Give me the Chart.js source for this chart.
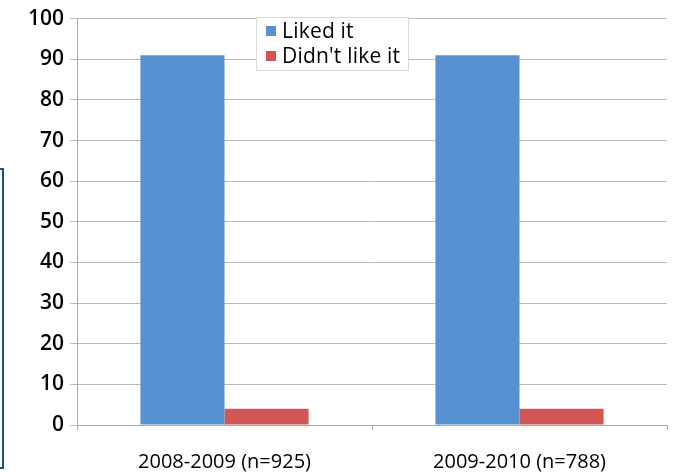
<!DOCTYPE html>
<html>
<head>
<meta charset="utf-8">
<script src="https://cdn.jsdelivr.net/npm/chart.js@4/dist/chart.umd.min.js"></script>
<style>
  body { margin: 0; background: #fff; }
  #wrap { position: relative; width: 680px; height: 472px; }
  #legend {
    position: absolute; left: 256px; top: 17px; width: 153px; height: 54px;
    background: #fff; border: 1px solid #d8d8d8; box-sizing: border-box;
    font-family: "Open Sans", sans-serif; font-size: 21px; color: #000;
    padding: 0 0 0 9px; line-height: 25px; white-space: nowrap; letter-spacing: 0.2px;
  }
  #legend span.sw { display: inline-block; width: 10px; height: 10px; margin-right: 6px; vertical-align: 2px; }
  #edge {
    position: absolute; left: 0; top: 168px; width: 2px; height: 297px;
    border-right: 2px solid #1f4f80; border-top: 2px solid #1f4f80; border-bottom: 2px solid #1f4f80;
  }
</style>
</head>
<body>
<div id="wrap">
  <canvas id="chart" width="680" height="472"></canvas>
  <div id="legend"></div>
  <div id="edge"></div>
</div>
<script>
var categories = ['2008-2009 (n=925)', '2009-2010 (n=788)'];
var seriesNames = ['Liked it', "Didn't like it"];
var likedValues = [91, 91];
var dislikedValues = [4, 4];
var colors = ['#5791D2', '#D25656'];

document.addEventListener('DOMContentLoaded', function() {
    var ctx = document.getElementById('chart').getContext('2d');
    var chart = new Chart(ctx, {
        type: 'bar',
        data: {
            labels: categories,
            datasets: [{
                label: seriesNames[0],
                data: likedValues,
                backgroundColor: colors[0]
            }, {
                label: seriesNames[1],
                data: dislikedValues,
                backgroundColor: colors[1]
            }]
        },
        options: {
            responsive: false,
            animation: false,
            layout: { padding: { left: 0, right: 13, top: 12, bottom: 0 } },
            plugins: {
                legend: { display: false },
                tooltip: { enabled: false }
            },
            datasets: {
                bar: { categoryPercentage: 0.57, barPercentage: 1 }
            },
            scales: {
                x: {
                    grid: { display: true, drawOnChartArea: false, color: '#aaa', tickLength: 5, offset: true },
                    border: { color: '#aaa' },
                    ticks: { color: '#000', padding: 20, font: { family: 'Open Sans', size: 20 } },
                    afterFit: function(s) { s.height = 47; }
                },
                y: {
                    min: 0, max: 100,
                    ticks: { stepSize: 10, color: '#000', padding: 6, font: { family: 'Open Sans', size: 21, weight: '600' } },
                    grid: { color: '#bbb', tickLength: 7 },
                    border: { color: '#aaa' },
                    afterFit: function(s) { s.width = 77; }
                }
            }
        }
    });

    var legend = document.getElementById('legend');
    seriesNames.forEach(function(name, i) {
        var row = document.createElement('div');
        row.innerHTML = '<span class="sw" style="background:' + colors[i] + '"></span>' + name;
        legend.appendChild(row);
    });
});
</script>
</body>
</html>
